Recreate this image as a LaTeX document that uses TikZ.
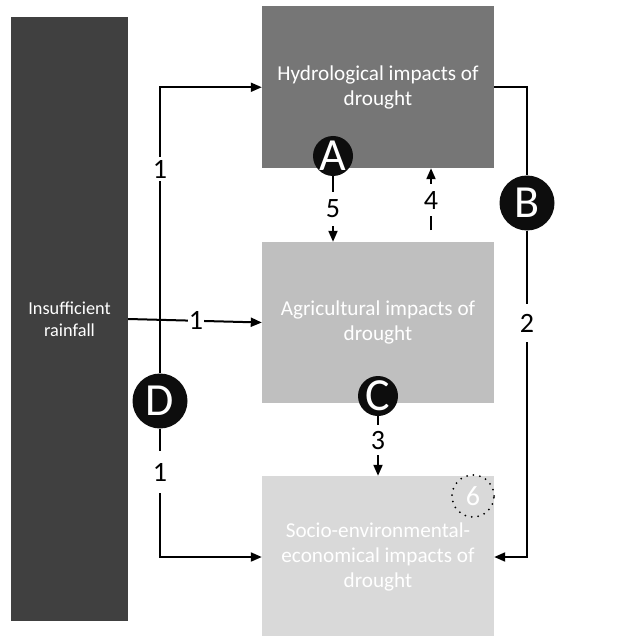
\documentclass[tikz,border=0pt]{standalone}
\usepackage{fontspec}
\setmainfont{Carlito}
\usetikzlibrary{arrows.meta}
\definecolor{rainc}{HTML}{404040}
\definecolor{hydc}{HTML}{767676}
\definecolor{agrc}{HTML}{BFBFBF}
\definecolor{socc}{HTML}{D9D9D9}
\begin{document}
\begin{tikzpicture}[x=1pt,y=-1pt,
  box/.style={rectangle, inner sep=0pt, text=white, align=center},
  conn/.style={line width=2pt, draw=black},
  arr/.style={conn, -{Triangle[length=11pt,width=9pt]}},
  lab/.style={fill=white, text=black, inner sep=2pt, font=\fontsize{28}{28}\selectfont},
  letter/.style={circle, fill=black!95, text=white, inner sep=0pt, font=\fontsize{46}{46}\selectfont},
]
\useasboundingbox (0,0) rectangle (617,636);
\node[box, fill=rainc, minimum width=117pt, minimum height=604pt, font=\fontsize{18.3}{21.5}\selectfont] (rain) at (69.5,319) {Insufficient\\rainfall};
\node[box, fill=hydc, minimum width=232pt, minimum height=161.5pt, font=\fontsize{21.2}{24.5}\selectfont] (hyd) at (378,87.25) {Hydrological impacts of\\drought};
\node[box, fill=agrc, minimum width=232pt, minimum height=161pt, font=\fontsize{21.2}{24.5}\selectfont] (agr) at (378,322.5) {Agricultural impacts of\\drought};
\node[box, fill=socc, minimum width=232pt, minimum height=162pt, font=\fontsize{21.2}{25}\selectfont] (soc) at (378,557) {Socio-environmental-\\economical impacts of\\drought};

\node[letter, minimum size=40pt] (A) at (333,156) {A};
\node[letter, minimum size=55pt] (B) at (527,203) {B};
\node[letter, minimum size=40pt] (C) at (378,396) {C};
\node[letter, minimum size=55pt] (D) at (160,401) {D};

\draw[arr] (D) |- (hyd.west) node[lab, pos=0.357, minimum height=24pt] {1};
\draw[arr] (D) |- (soc.west) node[lab, pos=0.17, minimum height=42pt] {1};
\draw[arr] (rain.east) -- (agr.west) node[lab, pos=0.507, inner sep=1pt] {1};
\draw[conn] (hyd.east) -| (B);
\draw[arr] (B) |- (soc.east) node[lab, pos=0.142, minimum height=38pt] {2};
\draw[arr] (A) -- (A |- agr.north) node[lab, pos=0.5, minimum height=34pt] {5};
\coordinate (f4) at (431,230);
\draw[arr] (f4) -- (f4 |- hyd.south) node[lab, pos=0.48, minimum height=32pt] {4};
\draw[arr] (C) -- (C |- soc.north) node[lab, pos=0.4, minimum height=30pt] {3};

\node[circle, draw=black, line width=2pt, dash pattern=on 0pt off 6.5pt, line cap=round, minimum size=42pt, inner sep=0pt, text=white, font=\fontsize{28}{28}\selectfont] (six) at (473,496) {6};
\end{tikzpicture}
\end{document}
